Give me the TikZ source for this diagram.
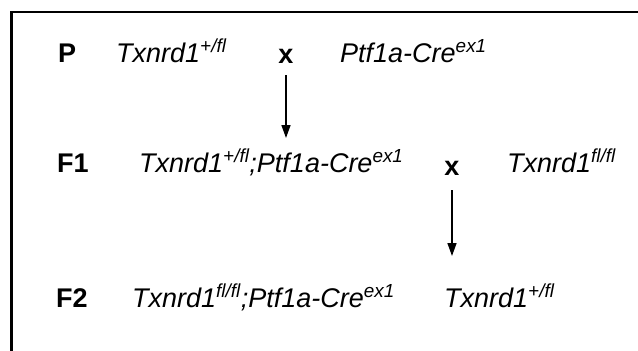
\documentclass[tikz,border=0pt]{standalone}
\usepackage{fontspec}
\setmainfont{Liberation Sans}
\usetikzlibrary{arrows.meta}
\begin{document}
\begin{tikzpicture}[x=1pt,y=-1pt,
  gen/.style={inner sep=0pt, font=\fontsize{27}{31}\selectfont\bfseries},
  gene/.style={inner sep=0pt, font=\fontsize{27}{31}\selectfont\itshape},
  cross/.style={inner sep=0pt, font=\fontsize{27}{31}\selectfont\bfseries},
  frame/.style={line width=2.4pt},
  descent/.style={line width=1.5pt, -{Triangle[width=9pt,length=13pt]}}]
\useasboundingbox (0,0) rectangle (638,351);
% frame (top and left edges)
\draw[frame] (638,12) -- (11.5,12) -- (11.5,351);

% parental cross
\node[gen, anchor=base west] (P) at (58,62) {P};
\node[gene, anchor=base west] (pa) at (116,62) {Txnrd1\textsuperscript{+/fl}};
\node[cross, anchor=base] (px) at (286,63) {x};
\node[gene, anchor=base west] (pb) at (340,62) {Ptf1a-Cre\textsuperscript{ex1}};

% F1 cross
\node[gen, anchor=base west] (F1) at (57,172) {F1};
\node[gene, anchor=base west] (f1a) at (139,172) {Txnrd1\textsuperscript{+/fl};Ptf1a-Cre\textsuperscript{ex1}};
\node[cross, anchor=base] (fx) at (452,175) {x};
\node[gene, anchor=base west] (f1b) at (507,172) {Txnrd1\textsuperscript{fl/fl}};

% F2 offspring
\node[gen, anchor=base west] (F2) at (56,307) {F2};
\node[gene, anchor=base west] (f2a) at (132,307) {Txnrd1\textsuperscript{fl/fl};Ptf1a-Cre\textsuperscript{ex1}};
\node[gene, anchor=base west] (f2b) at (444,307) {Txnrd1\textsuperscript{+/fl}};

% descent arrows
\coordinate (a1s) at (286,75);
\coordinate (a1e) at (286,138);
\coordinate (a2s) at (452,190);
\coordinate (a2e) at (452,256);
\draw[descent] (a1s) -- (a1e);
\draw[descent] (a2s) -- (a2e);
\end{tikzpicture}
\end{document}
